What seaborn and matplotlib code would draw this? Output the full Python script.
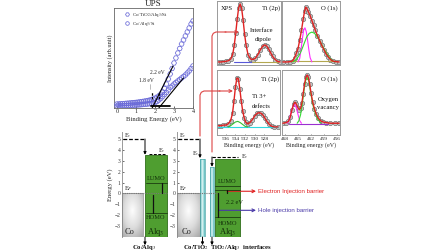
import numpy as np
import pandas as pd
import matplotlib
matplotlib.use("Agg")
import matplotlib.pyplot as plt
import seaborn as sns
from matplotlib.lines import Line2D
from matplotlib.colors import LinearSegmentedColormap

# ---------------- data ----------------
ups_be = [0.0, 0.1, 0.2, 0.3, 0.4, 0.5, 0.6, 0.7, 0.8, 0.9,
          1.0, 1.1, 1.2, 1.3, 1.4, 1.5, 1.6, 1.7, 1.8, 1.9,
          2.0, 2.1, 2.2, 2.3, 2.4, 2.5, 2.6, 2.7, 2.8, 2.9,
          3.0, 3.1, 3.2, 3.3, 3.4, 3.5, 3.6, 3.7, 3.8, 3.9, 4.0]
ups_tio2 = [0.040, 0.040, 0.042, 0.044, 0.045, 0.047, 0.048, 0.050, 0.052, 0.054,
            0.056, 0.058, 0.061, 0.064, 0.067, 0.070, 0.074, 0.078, 0.083, 0.090,
            0.098, 0.108, 0.120, 0.138, 0.160, 0.195, 0.240, 0.290, 0.340, 0.395,
            0.450, 0.500, 0.550, 0.595, 0.640, 0.680, 0.720, 0.760, 0.800, 0.840, 0.870]
ups_alq = [0.020, 0.020, 0.021, 0.022, 0.023, 0.024, 0.025, 0.026, 0.027, 0.028,
           0.030, 0.031, 0.032, 0.034, 0.036, 0.038, 0.040, 0.043, 0.046, 0.050,
           0.055, 0.065, 0.080, 0.095, 0.115, 0.135, 0.155, 0.180, 0.205, 0.220,
           0.240, 0.255, 0.270, 0.285, 0.300, 0.315, 0.330, 0.350, 0.370, 0.395, 0.420]
ups_labels = ["Co/TiO$_2$/Alq$_3$/Si", "Co/Alq$_3$/Si"]
ups_tan1_x = [1.85, 2.95]
ups_tan1_y = [0.0, 0.42]
ups_tan2_x = [2.2, 3.5]
ups_tan2_y = [0.0, 0.30]
ups_onsets = [1.85, 2.2]
ups_onset_labels = ["1.8 eV", "2.2 eV"]
ups_ticks = [0, 1, 2, 3, 4]

# XPS, top-left: Ti (2p), interface dipole
tl_be = [537.5, 537.0, 536.5, 536.0, 535.5, 535.0, 534.6, 534.3, 534.0, 533.7,
         533.4, 533.1, 532.8, 532.5, 532.2, 531.9, 531.5, 531.0, 530.5, 530.0,
         529.5, 529.0, 528.5, 528.1, 527.7, 527.3, 526.9, 526.5, 526.0, 525.5, 525.0]
tl_env = [0.0, 0.0, 0.005, 0.01, 0.02, 0.05, 0.13, 0.27, 0.47, 0.70,
          0.89, 0.95, 0.88, 0.69, 0.46, 0.28, 0.12, 0.05, 0.04, 0.06,
          0.12, 0.20, 0.26, 0.28, 0.26, 0.21, 0.15, 0.09, 0.04, 0.01, 0.0]
tl_base1_be = [534.3, 530.7]
tl_base1 = [0.0, 0.0]
tl_base2_be = [530.7, 525.4]
tl_base2 = [0.0, 0.0]

# XPS, top-right: O (1s)
tr_be = [468.5, 467.5, 466.8, 466.2, 465.8, 465.4, 465.0, 464.6, 464.2, 463.8,
         463.5, 463.2, 462.9, 462.6, 462.2, 461.8, 461.4, 461.0, 460.5, 460.0,
         459.5, 459.0, 458.5, 458.0, 457.5, 457.0, 456.3, 455.5]
tr_env = [0.0, 0.0, 0.005, 0.02, 0.07, 0.14, 0.22, 0.36, 0.52, 0.70,
          0.83, 0.90, 0.87, 0.82, 0.76, 0.68, 0.60, 0.52, 0.43, 0.35,
          0.27, 0.20, 0.13, 0.08, 0.04, 0.015, 0.005, 0.0]
tr_mag_be = [465.0, 464.6, 464.3, 464.0, 463.7, 463.4, 463.1, 462.8, 462.5, 462.2, 461.8]
tr_mag = [0.0, 0.06, 0.20, 0.38, 0.52, 0.56, 0.50, 0.36, 0.20, 0.07, 0.0]
tr_grn_be = [466.2, 465.4, 464.8, 464.2, 463.6, 463.0, 462.4, 461.8, 461.2,
             460.6, 460.0, 459.4, 458.8, 458.2, 457.6, 457.0, 456.4]
tr_grn = [0.0, 0.04, 0.10, 0.19, 0.30, 0.41, 0.47, 0.49, 0.47,
          0.42, 0.35, 0.27, 0.19, 0.12, 0.06, 0.02, 0.0]
tr_base_be = [467.0, 456.0]
tr_base = [0.01, 0.01]

# XPS, bottom-left: Ti (2p), Ti3+ defects
bl_be = [537.5, 537.0, 536.5, 536.0, 535.5, 535.0, 534.6, 534.3, 534.0, 533.7,
         533.4, 533.1, 532.8, 532.5, 532.2, 531.9, 531.5, 531.0, 530.5, 530.0,
         529.5, 529.1, 528.7, 528.3, 527.9, 527.5, 527.0, 526.5, 526.0, 525.2]
bl_env = [0.10, 0.10, 0.11, 0.11, 0.13, 0.18, 0.30, 0.50, 0.72, 0.87,
          0.86, 0.70, 0.50, 0.34, 0.23, 0.16, 0.13, 0.15, 0.20, 0.26,
          0.30, 0.31, 0.30, 0.27, 0.22, 0.17, 0.12, 0.09, 0.08, 0.08]
bl_grn_be = [535.5, 535.0, 534.5, 534.0, 533.5, 533.0, 532.5, 532.0, 531.5]
bl_grn = [0.08, 0.10, 0.13, 0.16, 0.17, 0.15, 0.12, 0.09, 0.08]
bl_base_be = [537.5, 525.2]
bl_base = [0.08, 0.08]

# XPS, bottom-right: O (1s), oxygen vacancy
br_be = [468.5, 467.8, 467.2, 466.8, 466.4, 466.0, 465.7, 465.4, 465.0, 464.7,
         464.4, 464.1, 463.8, 463.5, 463.2, 462.9, 462.6, 462.3, 462.0, 461.6,
         461.2, 460.8, 460.3, 459.8, 459.2, 458.5, 457.5, 456.5, 455.5]
br_env = [0.14, 0.15, 0.17, 0.24, 0.36, 0.45, 0.48, 0.45, 0.39, 0.36,
          0.38, 0.47, 0.62, 0.77, 0.88, 0.92, 0.88, 0.77, 0.63, 0.48,
          0.37, 0.29, 0.22, 0.18, 0.16, 0.15, 0.14, 0.14, 0.14]
br_mag_be = [467.4, 467.0, 466.6, 466.2, 465.8, 465.4, 465.0, 464.6, 464.2]
br_mag = [0.14, 0.20, 0.32, 0.41, 0.44, 0.39, 0.28, 0.18, 0.14]
br_grn_be = [465.2, 464.8, 464.4, 464.0, 463.6, 463.2, 462.9, 462.5, 462.0,
             461.5, 461.0, 460.4, 459.8]
br_grn = [0.14, 0.18, 0.28, 0.46, 0.68, 0.84, 0.88, 0.82, 0.60, 0.42, 0.30, 0.20, 0.15]
br_base_be = [467.0, 458.0]
br_base = [0.13, 0.13]

o1s_ticks = [536, 534, 532, 530, 528]
ti_ticks = [468, 465, 462, 459, 456]

# energy diagrams (eV)
energy_ticks = [5, 4, 3, 2, 1, 0, -1, -2, -3]
vac_co = 5.0
fermi = 0.0
left_alq_vac = 3.5
left_lumo = 1.0
left_homo = -1.8
right_tio2_co_top = 3.2
right_tio2_alq_vac = 3.35
right_tio2_alq_top = 2.4
right_alq_top = 3.2
right_lumo = [0.7, 0.35]
right_homo = -2.2

# ---------------- style ----------------
sns.set_style("white")
plt.rcParams['font.family'] = ['Liberation Serif', 'DejaVu Serif']
plt.rcParams['mathtext.fontset'] = 'stix'

W, H = 448, 252
fig = plt.figure(figsize=(W / 100, H / 100), dpi=100)
fig.patch.set_facecolor('white')


def add_ax(x0, y0, x1, y1, **kw):
    return fig.add_axes([x0 / W, 1 - y1 / H, (x1 - x0) / W, (y1 - y0) / H], **kw)


UPS_C = '#6a6ad8'
RED = '#e02222'

# ---------------- UPS ----------------
ax = add_ax(114, 8, 193, 108)
sns.scatterplot(x=ups_be, y=ups_tio2, marker='H', s=13, ax=ax, color=UPS_C,
                linewidth=0.55, legend=False, zorder=3)
sns.scatterplot(x=ups_be, y=ups_alq, marker='o', s=11, ax=ax, color=UPS_C,
                linewidth=0.55, legend=False, zorder=3)
for coll in ax.collections:
    coll.set_facecolor('none')
    coll.set_edgecolor(UPS_C)
ax.plot(ups_tan1_x, ups_tan1_y, color='k', lw=0.8, zorder=4)
ax.plot(ups_tan2_x, ups_tan2_y, color='k', lw=0.8, zorder=4)
ax.plot([1.8, 2.8], [0.02, 0.02], color='k', lw=1.3, zorder=4)
for xo in ups_onsets:
    ax.plot([xo, xo], [0.09, 0.16], color='k', lw=0.9, ls=(0, (2, 1)), zorder=4)
ax.text(1.55, 0.27, ups_onset_labels[0], fontsize=4, ha='center', va='center')
ax.text(2.1, 0.36, ups_onset_labels[1], fontsize=4, ha='center', va='center')
ax.plot([1.72, 1.72], [0.19, 0.24], color='#888', lw=0.4)
ax.set_xlim(-0.16, 4.0)
ax.set_ylim(0, 1)
ax.set_xticks(ups_ticks)
ax.set_yticks([])
ax.tick_params(axis='x', labelsize=4.5, pad=1, length=1.5, width=0.5,
               direction='in', bottom=True)
for s in ax.spines.values():
    s.set_color('#666')
    s.set_linewidth(0.6)
ax.set_xlabel('Binding Energy (eV)', fontsize=4.8, labelpad=1)
ax.set_ylabel('Intensity (arb.unit)', fontsize=4.5, labelpad=1)
ax.set_title('UPS', fontsize=6.5, pad=1.5)
handles = [Line2D([], [], ls='none', marker='H', mfc='none', mec=UPS_C, ms=2.8, mew=0.55,
                  label=ups_labels[0]),
           Line2D([], [], ls='none', marker='o', mfc='none', mec=UPS_C, ms=2.6, mew=0.55,
                  label=ups_labels[1])]
ax.legend(handles=handles, loc='upper left', bbox_to_anchor=(0.1, 1.0), frameon=False,
          fontsize=3.6, handlelength=0.8, handletextpad=0.6, borderaxespad=0.15,
          labelspacing=0.25)


# ---------------- XPS ----------------
def xps_panel(box, xlim, ylim, be, env, comps, ticks=None):
    a = add_ax(*box)
    sns.scatterplot(x=be, y=env, ax=a, s=10, color='#c4c4c4', edgecolor='#6e6e6e',
                    linewidth=0.45, legend=False, zorder=2)
    for cbe, cv, col in comps:
        sns.lineplot(x=cbe, y=cv, ax=a, color=col, lw=0.8, estimator=None,
                     legend=False, zorder=3)
    sns.lineplot(x=be, y=env, ax=a, color=RED, lw=1.0, estimator=None,
                 legend=False, zorder=4)
    a.set_xlim(*xlim)
    a.set_ylim(*ylim)
    a.set_yticks([])
    if ticks is not None:
        a.set_xticks(ticks)
        a.set_xticklabels([str(t) for t in ticks])
        a.tick_params(axis='x', labelsize=3.9, pad=1.5, length=1.0, width=0.4,
                      direction='in', bottom=True)
        a.set_xlabel('Binding energy (eV)', fontsize=4.3, labelpad=0.5)
    else:
        a.set_xticks([])
    a.set_ylabel('')
    for s in a.spines.values():
        s.set_color('#9a9a9a')
        s.set_linewidth(0.7)
    return a


xps_panel((217, 1, 281, 65), (537.8, 524.8), (-0.05, 1.0), tl_be, tl_env,
          [(tl_base1_be, tl_base1, '#5858d8'), (tl_base2_be, tl_base2, '#b4a850')])
xps_panel((282, 1, 340, 65), (468.7, 455.3), (-0.05, 1.0), tr_be, tr_env,
          [(tr_base_be, tr_base, '#b4a850'), (tr_mag_be, tr_mag, '#ff30ff'),
           (tr_grn_be, tr_grn, '#30dd30')])
xps_panel((217, 70, 280, 135), (537.8, 524.8), (-0.05, 1.0), bl_be, bl_env,
          [(bl_base_be, bl_base, '#30d8e0'), (bl_grn_be, bl_grn, '#30c030')],
          ticks=o1s_ticks)
xps_panel((282, 70, 340, 135), (468.7, 455.3), (-0.05, 1.0), br_be, br_env,
          [(br_base_be, br_base, '#9a30d0'), (br_mag_be, br_mag, '#ff30ff'),
           (br_grn_be, br_grn, '#30dd30')],
          ticks=ti_ticks)

# ---------------- energy diagrams ----------------
gray_cmap = LinearSegmentedColormap.from_list('g', ['#fdfdfd', '#dcdcdc', '#a4a4a4'])
teal_cmap = LinearSegmentedColormap.from_list('t', ['#e4f7f7', '#9ad9d9', '#5bb8ba'])
GREEN = '#4f9e30'
GREEN_EDGE = '#2f6e1a'
YBOT = -4.0


def energy_axes(box, xmax):
    a = add_ax(*box)
    a.set_facecolor('none')
    for s in ['top', 'right', 'bottom']:
        a.spines[s].set_visible(False)
    a.spines['left'].set_color('#9a9a9a')
    a.spines['left'].set_linewidth(0.7)
    a.set_yticks(energy_ticks)
    a.set_xticks([])
    a.tick_params(axis='y', labelsize=4, pad=1, length=1.5, width=0.5,
                  direction='in', left=True, colors='#333')
    return a


def grad_bar(a, x0, x1, top, cmap, radial=True, center=(0.5, 0.55), ec='#888'):
    bars = a.bar([(x0 + x1) / 2], [top - YBOT], bottom=YBOT, width=x1 - x0,
                 color='none', edgecolor=ec, linewidth=0.5, zorder=3)
    gx, gy = np.meshgrid(np.linspace(0, 1, 80), np.linspace(0, 1, 80))
    if radial:
        r = np.sqrt(((gx - center[0]) / 0.8) ** 2 + ((gy - center[1]) / 0.8) ** 2)
    else:
        r = np.abs(gx - 0.5) * 2
    im = a.imshow(np.clip(r, 0, 1), extent=(x0, x1, YBOT, top), origin='lower',
                  cmap=cmap, aspect='auto', vmin=0, vmax=1, zorder=2)
    im.set_clip_path(bars.patches[0])


def green_bar(a, x0, x1, top):
    a.bar([(x0 + x1) / 2], [top - YBOT], bottom=YBOT, width=x1 - x0,
          color=GREEN, edgecolor=GREEN_EDGE, linewidth=0.6, zorder=2)


def down_arrow(a, x, y0, y1):
    a.annotate('', xy=(x, y1), xytext=(x, y0),
               arrowprops=dict(arrowstyle='-|>', color='k', lw=0.7, mutation_scale=4,
                               shrinkA=0, shrinkB=0), annotation_clip=False)


TXT = dict(fontsize=4.6, ha='center', va='center')

# left: Co/Alq3
ea = energy_axes((122, 132, 168, 237), 46)
grad_bar(ea, 0, 21, fermi, gray_cmap, center=(0.5, 0.6))
green_bar(ea, 23, 45, left_alq_vac)
ea.plot([0.5, 22], [vac_co, vac_co], color='k', lw=0.9, ls=(0, (3, 1.5)), zorder=4)
down_arrow(ea, 23, vac_co, left_alq_vac + 0.05)
ea.plot([27, 44], [left_alq_vac + 0.12, left_alq_vac + 0.12], color='k', lw=0.7,
        ls=(0, (3, 1.5)), zorder=4)
ea.plot([0, 45], [fermi, fermi], color='#777', lw=0.8, ls=(0, (1, 1)), zorder=4)
ea.plot([24, 45], [left_lumo, left_lumo], color='#1c3c10', lw=0.6, zorder=4)
ea.plot([40, 40], [left_lumo, fermi], color='#111', lw=0.9, zorder=4)
ea.plot([24, 45], [left_homo, left_homo], color='#1c3c10', lw=0.6, zorder=4)
ea.plot([31, 31], [fermi - 0.15, left_homo], color='#111', lw=0.9, zorder=4)
ea.text(34, left_lumo + 0.35, 'LUMO', color='#12300a', **TXT)
ea.text(34, left_homo - 0.45, 'HOMO', color='#12300a', **TXT)
ea.text(1.5, vac_co + 0.35, 'E$_v$', fontsize=4.6, ha='left', va='center')
ea.text(40, left_alq_vac + 0.45, 'E$_v$', fontsize=4.6, ha='center', va='center')
ea.text(2, fermi + 0.45, 'E$_F$', fontsize=4.6, ha='left', va='center')
ea.text(8, -3.55, 'Co', fontsize=6, ha='center', va='center', color='#222')
ea.text(34, -3.55, 'Alq$_3$', fontsize=6, ha='center', va='center', color='#102a08')
down_arrow(ea, 23, YBOT, YBOT - 0.75)
ea.set_xlim(0, 46)
ea.set_ylim(YBOT, 5.64)
ea.set_ylabel('Energy (eV)', fontsize=4.8, labelpad=1.5)

# right: Co/TiO2/Alq3
eb = energy_axes((177, 132, 241, 237), 64)
grad_bar(eb, 0, 23, fermi, gray_cmap, center=(0.5, 0.6))
grad_bar(eb, 23, 28, right_tio2_co_top, teal_cmap, radial=False, ec='#4aa6a8')
grad_bar(eb, 33, 36.5, right_tio2_alq_top, teal_cmap, radial=False, ec='#4aa6a8')
green_bar(eb, 38, 63, right_alq_top)
eb.plot([0.5, 22], [vac_co, vac_co], color='k', lw=0.9, ls=(0, (3, 1.5)), zorder=4)
down_arrow(eb, 23, vac_co, right_tio2_co_top + 0.05)
eb.plot([35, 61], [right_tio2_alq_vac, right_tio2_alq_vac], color='k', lw=0.8,
        ls=(0, (3, 1.5)), zorder=4)
down_arrow(eb, 35, right_tio2_alq_vac, right_tio2_alq_top + 0.05)
eb.plot([0, 41], [fermi, fermi], color='#777', lw=0.8, ls=(0, (1, 1)), zorder=4)
for lv in right_lumo:
    eb.plot([38, 63], [lv, lv], color='#1c3c10', lw=0.6, zorder=4)
eb.plot([50, 50], [right_lumo[1], fermi], color='#111', lw=0.9, zorder=4)
eb.plot([38, 63], [right_homo, right_homo], color='#1c3c10', lw=0.6, zorder=4)
eb.plot([41, 41], [fermi, right_homo], color='#111', lw=0.9, zorder=4)
eb.text(50, right_lumo[0] + 0.4, 'LUMO', color='#12300a', **TXT)
eb.text(51, right_homo - 0.55, 'HOMO', color='#12300a', **TXT)
eb.text(57, -0.8, '2.2 eV', color='#12300a', **TXT)
eb.text(1.5, vac_co + 0.35, 'E$_v$', fontsize=4.6, ha='left', va='center')
eb.text(18.5, right_tio2_co_top + 0.5, 'E$_v$', fontsize=4.6, ha='center', va='center')
eb.text(64, right_tio2_alq_vac, 'E$_v$', fontsize=4.6, ha='left', va='center',
        clip_on=False)
eb.text(2, fermi + 0.45, 'E$_F$', fontsize=4.6, ha='left', va='center')
eb.text(10, -3.55, 'Co', fontsize=6, ha='center', va='center', color='#222')
eb.text(51, -3.55, 'Alq$_3$', fontsize=6, ha='center', va='center', color='#102a08')
down_arrow(eb, 25.5, YBOT, YBOT - 0.75)
down_arrow(eb, 35, YBOT, YBOT - 0.75)
eb.annotate('', xy=(79, 0.2), xytext=(50, 0.2),
            arrowprops=dict(arrowstyle='->', color=RED, lw=0.8, mutation_scale=5,
                            shrinkA=0, shrinkB=0), annotation_clip=False)
eb.text(80.5, 0.2, 'Electron Injection barrier', color=RED, fontsize=4.4,
        family=['Liberation Sans', 'DejaVu Sans'], ha='left', va='center', clip_on=False)
eb.annotate('', xy=(79, -1.55), xytext=(42, -1.55),
            arrowprops=dict(arrowstyle='->', color='#4a3aa8', lw=0.8, mutation_scale=5,
                            shrinkA=0, shrinkB=0), annotation_clip=False)
eb.text(80.5, -1.55, 'Hole injection barrier', color='#4a3aa8', fontsize=4.4,
        family=['Liberation Sans', 'DejaVu Sans'], ha='left', va='center', clip_on=False)
eb.set_xlim(0, 64)
eb.set_ylim(YBOT, 5.64)

# ---------------- overlay (annotations in pixel space) ----------------
ov = fig.add_axes([0, 0, 1, 1], zorder=10)
ov.set_xlim(0, W)
ov.set_ylim(H, 0)
ov.axis('off')
ov.patch.set_alpha(0)

RL = '#dd4444'
ov.plot([226, 216, 213.3, 212, 212], [32, 32, 33.3, 36, 152], color=RL, lw=0.8,
        solid_joinstyle='round')
ov.annotate('', xy=(239, 32), xytext=(225, 32),
            arrowprops=dict(arrowstyle='->', color=RL, lw=0.8, mutation_scale=5,
                            shrinkA=0, shrinkB=0))
ov.plot([220, 204, 201.3, 200, 200], [91, 91, 92.3, 95, 136], color=RL, lw=0.8,
        solid_joinstyle='round')
ov.annotate('', xy=(233, 91), xytext=(219, 91),
            arrowprops=dict(arrowstyle='->', color=RL, lw=0.8, mutation_scale=5,
                            shrinkA=0, shrinkB=0))

T = dict(fontsize=4.8, va='center', color='#111')
ov.text(221, 8, 'XPS', ha='left', **T)
ov.text(280, 8, 'Ti (2p)', ha='right', **T)
ov.text(262, 30, 'Interface', ha='center', **T)
ov.text(263, 40, 'dipole', ha='center', **T)
ov.text(338, 8, 'O (1s)', ha='right', **T)
ov.text(279, 79, 'Ti (2p)', ha='right', **T)
ov.text(259, 97, 'Ti 3+', ha='center', **T)
ov.text(261, 107, 'defects', ha='center', **T)
ov.text(338, 79, 'O (1s)', ha='right', **T)
ov.text(328, 99, 'Oxygen', ha='center', **T)
ov.text(328, 108, 'vacancy', ha='center', **T)

B = dict(fontsize=4.8, va='center', ha='center', fontweight='bold', color='#111')
ov.text(144, 248, 'Co/Alq$_3$', **B)
ov.text(228, 248, 'Co/TiO$_2$  TiO$_2$/Alq$_3$  interfaces', **B)

fig.savefig('out.png', dpi=100, facecolor='white')
